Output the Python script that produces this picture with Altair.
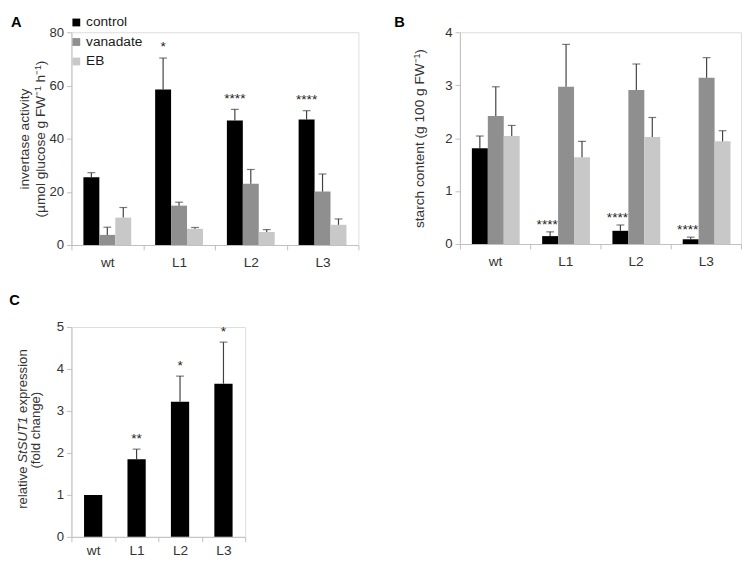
import altair as alt
import pandas as pd

FONT = "Liberation Sans"
TXT = "#333333"
AXC = "#bfbfbf"
ERRC = "#404040"

lines = ["wt", "L1", "L2", "L3"]
treatments = ["control", "vanadate", "EB"]
colors = ["#000000", "#8f8f8f", "#c8c8c8"]

# Panel A: invertase activity
inv_control = [25.5, 58.5, 46.8, 47.2]
inv_control_err = [1.7, 11.8, 4.2, 3.3]
inv_vanadate = [3.8, 14.8, 23.0, 20.1]
inv_vanadate_err = [2.9, 1.3, 5.4, 6.6]
inv_eb = [10.3, 6.1, 4.9, 7.6]
inv_eb_err = [3.8, 0.5, 0.9, 2.2]
inv_stars = ["", "*", "****", "****"]

# Panel B: starch content
st_control = [1.81, 0.15, 0.25, 0.09]
st_control_err = [0.23, 0.08, 0.11, 0.04]
st_vanadate = [2.42, 2.97, 2.91, 3.14]
st_vanadate_err = [0.55, 0.80, 0.49, 0.38]
st_eb = [2.04, 1.64, 2.02, 1.94]
st_eb_err = [0.20, 0.30, 0.37, 0.20]
st_stars = ["", "****", "****", "****"]

# Panel C: StSUT1 expression
sut_values = [1.0, 1.85, 3.22, 3.65]
sut_err = [0.0, 0.24, 0.61, 0.99]
sut_stars = ["", "**", "*", "*"]


def make_df(vals_by_t, errs_by_t, stars, tr):
    rows = []
    for t, vals, errs in zip(tr, vals_by_t, errs_by_t):
        for i, ln in enumerate(lines):
            rows.append({"line": ln, "treatment": t, "value": vals[i], "err": errs[i],
                         "top": vals[i] + errs[i],
                         "star": stars[i] if t == "control" else ""})
    return pd.DataFrame(rows)


def x_enc(label_pad=6):
    return alt.X("line:N", sort=lines, scale=alt.Scale(paddingInner=0, paddingOuter=0),
                 axis=alt.Axis(title=None, tickBand="extent", labelAngle=0,
                               labelPadding=label_pad,
                               labelFontSize=14, labelColor=TXT, labelFont=FONT,
                               domainColor=AXC, tickColor=AXC, tickSize=5, grid=False))


def y_enc(ymax, vals, title, title_pad):
    ax = dict(values=vals, format="d", labelFontSize=13.5, labelColor=TXT, labelFont=FONT,
              domainColor=AXC, tickColor=AXC, tickSize=5, grid=False, labelPadding=3)
    if title is None:
        ax["title"] = None
    else:
        ax.update(title=title, titleFontSize=14, titleFontWeight="normal", titleColor=TXT,
                  titleFont=FONT, titlePadding=title_pad, titleLineHeight=16)
    return alt.Y("value:Q", scale=alt.Scale(domain=[0, ymax], nice=False, zero=True),
                 axis=alt.Axis(**ax))


def panel_label(label, lab_x, lab_y):
    return alt.Chart(pd.DataFrame({"t": [label]})).mark_text(
        fontSize=15, fontWeight="bold", font=FONT, color="#000000", align="left",
        baseline="top").encode(x=alt.value(lab_x), y=alt.value(lab_y), text="t:N")


def grouped_panel(df, ymax, yvals, title, title_pad, w, h, leg_x, leg_y,
                  label, lab_x, lab_y, star_dy, star_dx):
    xo = alt.XOffset("treatment:N", sort=treatments,
                     scale=alt.Scale(domain=treatments, paddingOuter=0.75, paddingInner=0))
    base = alt.Chart(df)
    bars = base.mark_bar().encode(
        x=x_enc(), xOffset=xo, y=y_enc(ymax, yvals, title, title_pad),
        color=alt.Color("treatment:N", sort=treatments,
                        scale=alt.Scale(domain=treatments, range=colors),
                        legend=alt.Legend(orient="none", legendX=leg_x, legendY=leg_y,
                                          title=None, symbolType="square", symbolSize=64,
                                          symbolStrokeWidth=0, labelFontSize=14,
                                          labelColor="#1a1a1a", labelFont=FONT,
                                          rowPadding=6, labelOffset=3, padding=0)))
    rules = base.mark_rule(color=ERRC, strokeWidth=1.2).encode(
        x=alt.X("line:N", sort=lines), xOffset=xo, y="value:Q", y2="top:Q")
    caps = base.mark_tick(color=ERRC, size=8, thickness=1.2).encode(
        x=alt.X("line:N", sort=lines), xOffset=xo, y="top:Q")
    stars = base.mark_text(fontSize=14, font=FONT, color="#222222", baseline="alphabetic",
                           dy=star_dy, dx=star_dx).encode(
        x=alt.X("line:N", sort=lines), xOffset=xo, y="top:Q", text="star:N")
    lab = panel_label(label, lab_x, lab_y)
    return alt.layer(bars, rules, caps, stars, lab).properties(width=w, height=h)


dfA = make_df([inv_control, inv_vanadate, inv_eb],
              [inv_control_err, inv_vanadate_err, inv_eb_err], inv_stars, treatments)
dfB = make_df([st_control, st_vanadate, st_eb],
              [st_control_err, st_vanadate_err, st_eb_err], st_stars, treatments)
dfC = make_df([sut_values], [sut_err], sut_stars, ["control"])

A = grouped_panel(dfA, 80, [0, 20, 40, 60, 80],
                  ["invertase activity", "(µmol glucose g FW⁻¹ h⁻¹)"], 2,
                  294, 218, -2, -17, "A", -62, -17, -7, 0)
B = grouped_panel(dfB, 4, [0, 1, 2, 3, 4], "starch content (g 100 g FW⁻¹)", 19,
                  288, 217, 12, -17, "B", -67.3, -17, -3, -3)

# Panel C
wC, hC = 178, 215
baseC = alt.Chart(dfC)
barsC = baseC.mark_bar(color="#000000", width=alt.RelativeBandSize(0.42)).encode(
    x=x_enc(2), y=y_enc(5, [0, 1, 2, 3, 4, 5], None, 0))
dfCe = dfC[dfC["err"] > 0]
rulesC = alt.Chart(dfCe).mark_rule(color=ERRC, strokeWidth=1.2).encode(
    x=alt.X("line:N", sort=lines), y="value:Q", y2="top:Q")
capsC = alt.Chart(dfCe).mark_tick(color=ERRC, size=8, thickness=1.2).encode(
    x=alt.X("line:N", sort=lines), y="top:Q")
starsC = baseC.mark_text(fontSize=14, font=FONT, color="#222222", baseline="alphabetic",
                         dy=-6.5).encode(x=alt.X("line:N", sort=lines), y="top:Q",
                                         text="star:N")

# rotated two-line title with italic gene name
fs = 13.5
w_rel = 3.501 * fs
w_gene = 3.501 * fs + 0.278 * fs
w_total = (3.501 + 3.501 + 5.113) * fs
y_start = 104.5 + w_total / 2
segs = pd.DataFrame({
    "t": ["relative", "StSUT1", "expression"],
    "yy": [y_start, y_start - w_rel, y_start - w_rel - w_gene],
    "st": ["normal", "italic", "normal"],
})
title_parts = []
for i in range(3):
    title_parts.append(alt.Chart(segs.iloc[[i]]).mark_text(
        fontSize=fs, font=FONT, color=TXT, angle=270, align="left", baseline="middle",
        fontStyle=segs["st"][i]).encode(
        x=alt.value(-49.7), y=alt.value(float(segs["yy"][i])), text="t:N"))
line2 = alt.Chart(pd.DataFrame({"t": ["(fold change)"]})).mark_text(
    fontSize=fs, font=FONT, color=TXT, angle=270, align="center", baseline="middle").encode(
    x=alt.value(-36.7), y=alt.value(105.7), text="t:N")
labC = panel_label("C", -63.7, -35)

C = alt.layer(barsC, rulesC, capsC, starsC, *title_parts, line2, labC).properties(
    width=wC, height=hC)

chart = alt.vconcat(
    alt.hconcat(A, B, spacing=104, bounds="flush"), C, spacing=22
).properties(
    padding={"left": 0, "top": 0, "right": 0, "bottom": 0},
    autosize=alt.AutoSizeParams(type="pad")
).configure_view(stroke=None).configure(font=FONT)

chart.save("out.html", embed_options={"renderer": "svg", "actions": False})
